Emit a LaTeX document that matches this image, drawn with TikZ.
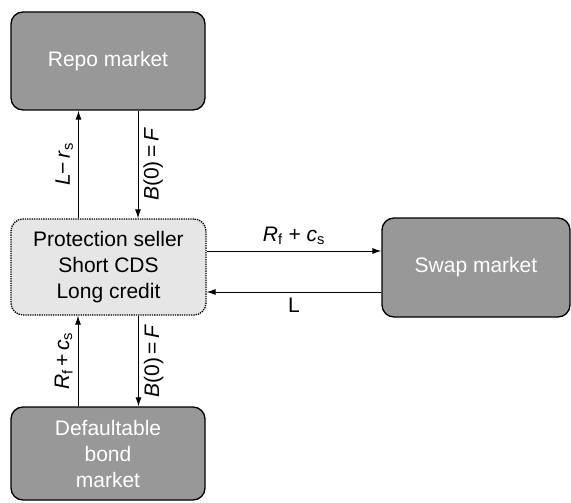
\documentclass[tikz,border=0pt]{standalone}
\usepackage{fontspec}
\setmainfont{Liberation Sans}
\usepackage{tikz}
\usetikzlibrary{arrows.meta,positioning}

\definecolor{mktgray}{RGB}{152,152,152}
\definecolor{selgray}{RGB}{230,230,230}

\newcommand{\ital}[1]{\textit{#1}}

\begin{document}
\begin{tikzpicture}[
  x=1pt,y=-1pt,
  font=\fontsize{21}{26}\selectfont,
  every node/.style={align=center},
  market/.style={draw,rounded corners=12pt,line width=1.3pt,fill=mktgray,
                 text=white,inner sep=0pt},
  seller/.style={draw,densely dotted,rounded corners=12pt,line width=1.3pt,
                 fill=selgray,inner sep=0pt},
  arr/.style={-{Latex[length=9pt,width=6pt]},line width=0.9pt}
]
\useasboundingbox (0,0) rectangle (571,503);
% --- boxes ---
\node[seller,minimum width=195pt,minimum height=96pt] (sell) at (108.5,267)
  {Protection seller\\Short CDS\\Long credit};
\node[market,minimum width=194pt,minimum height=98pt] (repo) at (108,61) {Repo market};
\node[market,minimum width=188pt,minimum height=99pt] (swap) at (476,267.5) {Swap market};
\node[market,minimum width=194pt,minimum height=93pt] (bond) at (108,453.5)
  {Defaultable\\bond\\market};
% --- repo legs ---
\draw[arr] ([xshift=-30pt]sell.north) -- ([xshift=-30pt]sell.north |- repo.south)
  node[midway,rotate=90,anchor=south,inner sep=5pt] {\ital{L}−\,\ital{r}\textsubscript{s}};
\draw[arr] ([xshift=30pt]repo.south) -- ([xshift=30pt]repo.south |- sell.north)
  node[midway,rotate=90,anchor=north,inner sep=5pt] {\ital{B}(0)\,=\,\ital{F}};
% --- swap legs ---
\draw[arr] ([yshift=16pt]sell.east) -- ([yshift=16pt]sell.east -| swap.west)
  node[midway,above,inner sep=6pt] {\ital{R}\textsubscript{f} + \ital{c}\textsubscript{s}};
\draw[arr] ([yshift=-25pt]sell.east -| swap.west) -- ([yshift=-25pt]sell.east)
  node[midway,below,inner sep=6pt] {L};
% --- bond legs ---
\draw[arr] ([xshift=-30pt]bond.north) -- ([xshift=-30pt]bond.north |- sell.south)
  node[midway,rotate=90,anchor=south,inner sep=5pt] {\ital{R}\textsubscript{f}\,+\,\ital{c}\textsubscript{s}};
\draw[arr] ([xshift=30pt]sell.south) -- ([xshift=30pt]sell.south |- bond.north)
  node[midway,rotate=90,anchor=north,inner sep=5pt] {\ital{B}(0)\,=\,\ital{F}};
\end{tikzpicture}
\end{document}
